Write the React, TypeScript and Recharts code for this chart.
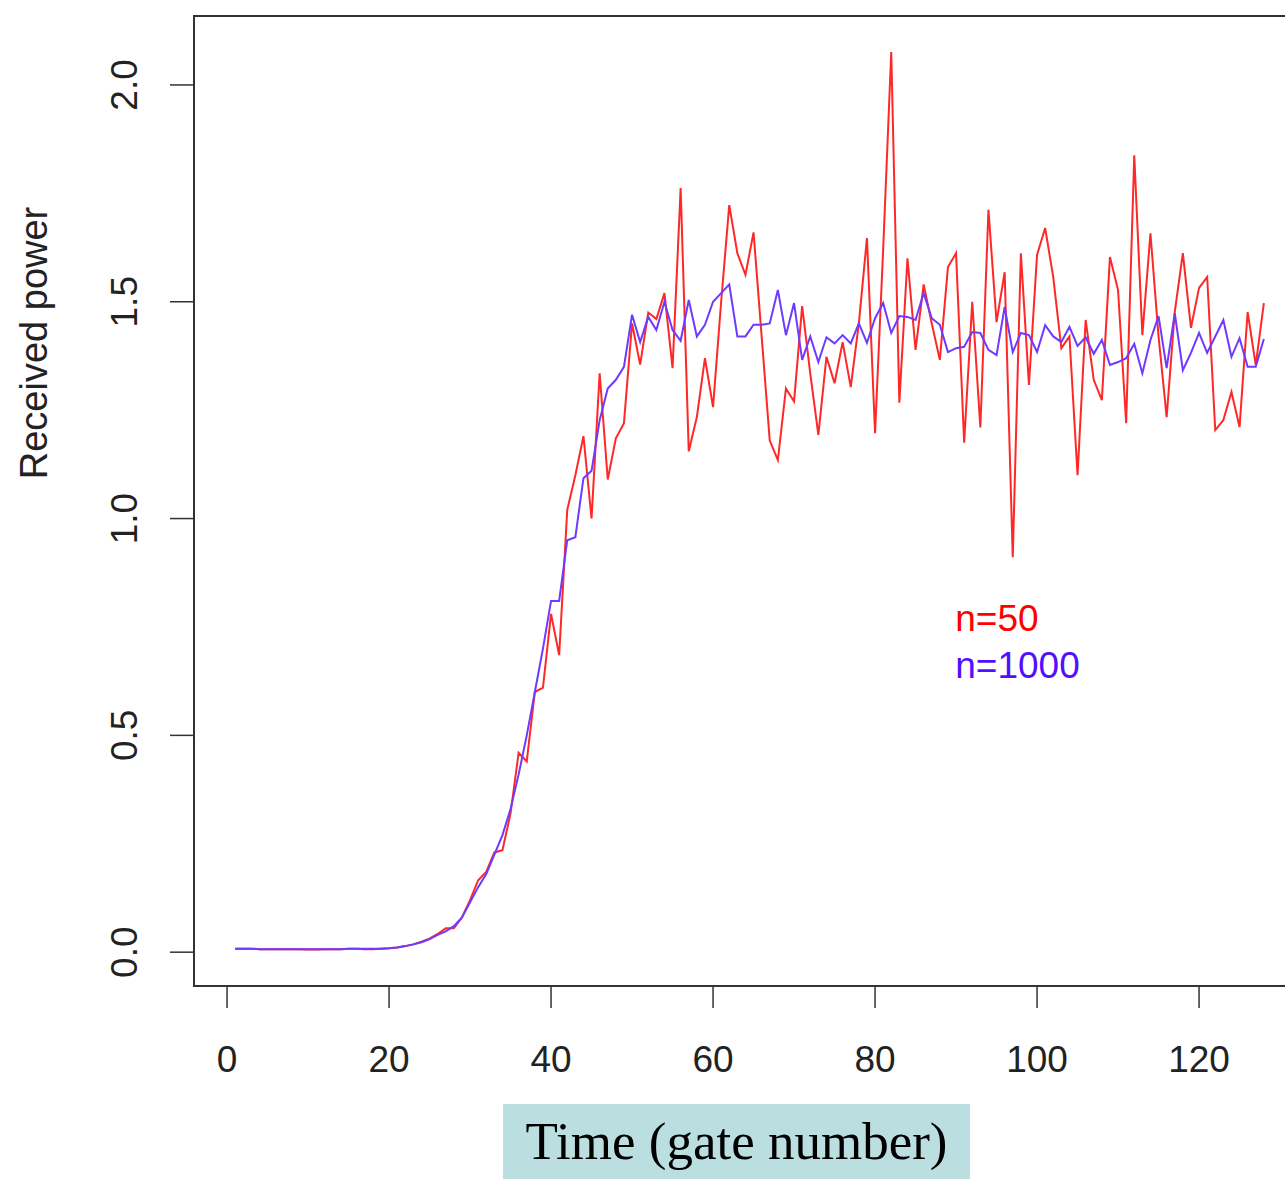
import React from 'react';
import { LineChart, Line, XAxis, YAxis, ReferenceArea, ReferenceDot } from 'recharts';

// Received power for n=50 (red), gates 1..128
const n50Values: number[] = [
  0.008, 0.008, 0.008, 0.007, 0.007, 0.007, 0.007, 0.007, 0.007, 0.006,
  0.006, 0.007, 0.007, 0.007, 0.008, 0.008, 0.007, 0.007, 0.008, 0.009,
  0.011, 0.014, 0.018, 0.024, 0.031, 0.042, 0.055, 0.055, 0.08, 0.12,
  0.166, 0.185, 0.23, 0.235, 0.32, 0.46, 0.44, 0.6, 0.61, 0.78,
  0.685, 1.02, 1.1, 1.19, 1.0, 1.335, 1.09, 1.185, 1.22, 1.45,
  1.355, 1.475, 1.46, 1.52, 1.347, 1.762, 1.155, 1.234, 1.37, 1.257,
  1.5, 1.723, 1.612, 1.562, 1.66, 1.42, 1.18, 1.135, 1.3, 1.27,
  1.49, 1.335, 1.193, 1.373, 1.312, 1.407, 1.303, 1.45, 1.647, 1.197,
  1.62, 2.076, 1.267, 1.6, 1.389, 1.54, 1.45, 1.366, 1.58, 1.612,
  1.175, 1.5, 1.21, 1.712, 1.453, 1.568, 0.911, 1.612, 1.308, 1.608,
  1.67, 1.557, 1.393, 1.42, 1.1, 1.458, 1.32, 1.273, 1.603, 1.527,
  1.22, 1.838, 1.423, 1.658, 1.42, 1.234, 1.476, 1.612, 1.44, 1.532,
  1.557, 1.204, 1.227, 1.292, 1.211, 1.476, 1.354, 1.497,
];

// Received power for n=1000 (blue), gates 1..128
const n1000Values: number[] = [
  0.008, 0.008, 0.008, 0.007, 0.007, 0.007, 0.007, 0.007, 0.007, 0.007,
  0.007, 0.007, 0.007, 0.007, 0.008, 0.008, 0.008, 0.008, 0.008, 0.009,
  0.011, 0.014, 0.018, 0.023, 0.03, 0.04, 0.048, 0.06, 0.08, 0.115,
  0.15, 0.18, 0.225, 0.27, 0.33, 0.41, 0.5, 0.6, 0.7, 0.81,
  0.81, 0.95, 0.957, 1.093, 1.11, 1.227, 1.3, 1.32, 1.35, 1.47,
  1.407, 1.465, 1.435, 1.5, 1.435, 1.41, 1.504, 1.42, 1.447, 1.5,
  1.52, 1.54, 1.42, 1.42, 1.447, 1.447, 1.45, 1.527, 1.423, 1.497,
  1.366, 1.42, 1.361, 1.418, 1.404, 1.423, 1.404, 1.45, 1.405, 1.462,
  1.497, 1.428, 1.467, 1.465, 1.458, 1.52, 1.462, 1.447, 1.384, 1.393,
  1.396, 1.43, 1.428, 1.389, 1.377, 1.488, 1.384, 1.428, 1.423, 1.384,
  1.446, 1.42, 1.407, 1.442, 1.398, 1.418, 1.38, 1.412, 1.354, 1.361,
  1.37, 1.403, 1.335, 1.412, 1.467, 1.347, 1.474, 1.342, 1.382, 1.428,
  1.382, 1.42, 1.458, 1.373, 1.416, 1.35, 1.35, 1.414,
];

const xTicks: number[] = [0, 20, 40, 60, 80, 100, 120];
const yTicks: number[] = [0, 0.5, 1.0, 1.5, 2.0];
const xDomain: [number, number] = [-4.08, 133.08];
const yDomain: [number, number] = [-0.078, 2.159];

const data = n50Values.map((v, i) => ({ gate: i + 1, n50: v, n1000: n1000Values[i] }));

const RED = '#FF2828';
const BLUE = '#6E3AFF';
const AXIS = '#333333';
const SANS = '"Liberation Sans", Arial, Helvetica, sans-serif';

const XTick = (props: any) => {
  const { x, y, payload } = props;
  return (
    <text x={x} y={y + 64} textAnchor="middle" fontSize={37} fill="#222" fontFamily={SANS}>
      {payload.value}
    </text>
  );
};

const YTick = (props: any) => {
  const { x, y, payload } = props;
  const bx = x - 33;
  return (
    <text
      x={bx}
      y={y}
      transform={`rotate(-90 ${bx} ${y})`}
      textAnchor="middle"
      fontSize={37}
      fill="#222"
      fontFamily={SANS}
    >
      {Number(payload.value).toFixed(1)}
    </text>
  );
};

const YLabel = () => (
  <text
    x={47}
    y={343}
    transform="rotate(-90 47 343)"
    textAnchor="middle"
    fontSize={38}
    fill="#222"
    fontFamily={SANS}
  >
    Received power
  </text>
);

const legendText = (text: string, color: string) => (props: any) => {
  const vb = props.viewBox || {};
  return (
    <text x={vb.x} y={vb.y} textAnchor="start" fontSize={37} fill={color} fontFamily={SANS}>
      {text}
    </text>
  );
};

export default function App() {
  return (
    <div
      style={{
        position: 'absolute',
        left: 0,
        top: 0,
        width: 1285,
        height: 1179,
        overflow: 'hidden',
        background: '#ffffff',
      }}
    >
      <LineChart
        width={1320}
        height={1179}
        data={data}
        margin={{ top: 16, right: 15, left: 0, bottom: 0 }}
      >
        <XAxis
          dataKey="gate"
          type="number"
          domain={xDomain}
          ticks={xTicks}
          allowDataOverflow
          axisLine={false}
          tickLine={{ stroke: AXIS, strokeWidth: 1.5 }}
          tickSize={22}
          tickMargin={0}
          height={193}
          tick={<XTick />}
          interval={0}
        />
        <YAxis
          type="number"
          domain={yDomain}
          ticks={yTicks}
          allowDataOverflow
          axisLine={false}
          tickLine={{ stroke: AXIS, strokeWidth: 1.5 }}
          tickSize={24}
          tickMargin={0}
          width={194}
          tick={<YTick />}
          interval={0}
          label={<YLabel />}
        />
        <ReferenceArea
          x1={xDomain[0]}
          x2={xDomain[1]}
          y1={yDomain[0]}
          y2={yDomain[1]}
          fill="none"
          fillOpacity={0}
          stroke={AXIS}
          strokeWidth={2}
          ifOverflow="visible"
        />
        <Line
          type="linear"
          dataKey="n50"
          stroke={RED}
          strokeWidth={2}
          dot={false}
          isAnimationActive={false}
        />
        <Line
          type="linear"
          dataKey="n1000"
          stroke={BLUE}
          strokeWidth={2}
          dot={false}
          isAnimationActive={false}
        />
        <ReferenceDot
          x={89.9}
          y={0.74}
          r={0}
          fill="none"
          stroke="none"
          label={legendText('n=50', '#FF0000')}
        />
        <ReferenceDot
          x={89.9}
          y={0.632}
          r={0}
          fill="none"
          stroke="none"
          label={legendText('n=1000', '#5010FF')}
        />
      </LineChart>
      <div
        style={{
          position: 'absolute',
          left: 503,
          top: 1104,
          width: 467,
          height: 75,
          background: '#BBDFE1',
          display: 'flex',
          alignItems: 'center',
          justifyContent: 'center',
          fontFamily: '"Liberation Serif", "Times New Roman", serif',
          fontSize: 53,
          color: '#000',
          lineHeight: 1,
        }}
      >
        Time (gate number)
      </div>
    </div>
  );
}
